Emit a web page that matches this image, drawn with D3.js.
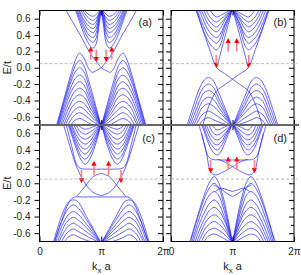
<!DOCTYPE html>
<html><head><meta charset="utf-8">
<script src="https://cdn.jsdelivr.net/npm/d3@7/dist/d3.min.js"></script>
<style>body{margin:0;background:#fff}svg{display:block}text{font-family:"Liberation Sans",Arial,sans-serif}</style>
</head><body><svg id="c" width="301" height="275"></svg>
<script>
// ---- data (k in units of pi, E in units of t); each band is the half 0..pi, mirrored about pi ----
const kTicks=[0,1,2];
const kTickLabels=["0","\u03c0","2\u03c0"];
const eMajor=[-0.6,-0.4,-0.2,0,0.2,0.4,0.6];
const eMinor=[-0.5,-0.3,-0.1,0.1,0.3,0.5];
const eDomain=[-0.7,0.7];
const fermiLevel=0.05;

const bandsA=[
[[0.24,-0.8],[0.39,-0.4],[0.5,-0.1],[0.585,0.1],[0.65,0.18],[0.72,0.12],[0.79,0.0],[0.85,-0.055],[0.92,-0.035],[1.0,0.0]],
[[0.25,-0.8],[0.4,-0.4],[0.52,-0.1],[0.59,0.04],[0.65,0.09],[0.71,0.04],[0.82,-0.22],[1.0,-0.72]],
[[0.26,-0.8],[0.41,-0.4],[0.52,-0.15],[0.58,-0.05],[0.65,0.0],[0.72,-0.05],[0.82,-0.28],[1.0,-0.72]],
[[0.27,-0.8],[0.43,-0.4],[0.53,-0.2],[0.58,-0.13],[0.65,-0.09],[0.72,-0.13],[0.82,-0.34],[1.0,-0.72]],
[[0.28,-0.8],[0.43,-0.45],[0.52,-0.28],[0.58,-0.21],[0.65,-0.17],[0.72,-0.21],[0.82,-0.39],[1.0,-0.72]],
[[0.3,-0.8],[0.435,-0.5],[0.52,-0.35],[0.57,-0.29],[0.65,-0.25],[0.73,-0.29],[0.82,-0.44],[1.0,-0.72]],
[[0.32,-0.8],[0.44,-0.55],[0.52,-0.42],[0.565,-0.37],[0.65,-0.33],[0.735,-0.37],[0.82,-0.49],[1.0,-0.72]],
[[0.34,-0.8],[0.45,-0.6],[0.51,-0.5],[0.56,-0.45],[0.65,-0.41],[0.74,-0.45],[0.83,-0.55],[1.0,-0.72]],
[[0.37,-0.8],[0.45,-0.65],[0.52,-0.56],[0.56,-0.52],[0.65,-0.48],[0.74,-0.52],[0.84,-0.6],[1.0,-0.72]],
[[0.39,-0.8],[0.46,-0.7],[0.52,-0.62],[0.57,-0.58],[0.65,-0.55],[0.73,-0.58],[0.85,-0.65],[1.0,-0.72]],
[[0.43,-0.8],[0.51,-0.7],[0.56,-0.65],[0.65,-0.62],[0.74,-0.65],[0.86,-0.7],[1.0,-0.72]],
[[1.0,0.0],[0.93,0.065],[0.86,0.13],[0.78,0.23],[0.66,0.4],[0.52,0.58],[0.36,0.8]],
[[0.54,0.8],[0.75,0.36],[0.82,0.27],[0.87,0.24],[0.92,0.3],[0.96,0.5],[1.0,0.72]],
[[0.55,0.8],[0.74,0.43],[0.81,0.34],[0.87,0.31],[0.92,0.37],[0.96,0.54],[1.0,0.72]],
[[0.56,0.8],[0.73,0.49],[0.8,0.4],[0.87,0.37],[0.92,0.43],[0.96,0.58],[1.0,0.72]],
[[0.58,0.8],[0.72,0.55],[0.8,0.46],[0.87,0.43],[0.92,0.48],[0.96,0.61],[1.0,0.72]],
[[0.59,0.8],[0.71,0.6],[0.795,0.51],[0.87,0.48],[0.92,0.53],[0.96,0.64],[1.0,0.72]],
[[0.61,0.8],[0.71,0.65],[0.79,0.56],[0.87,0.53],[0.92,0.57],[0.96,0.66],[1.0,0.72]],
[[0.63,0.8],[0.72,0.68],[0.79,0.61],[0.87,0.58],[0.93,0.62],[1.0,0.72]],
[[0.66,0.8],[0.72,0.72],[0.78,0.66],[0.87,0.63],[0.94,0.67],[1.0,0.72]]
];
const arrowsA=[[0.83,0.10,0.26],[0.92,0.22,0.07],[1.08,0.22,0.07],[1.17,0.10,0.26]];

const bandsB=[
[[0.22,-0.8],[0.37,-0.45],[0.47,-0.24],[0.54,-0.15],[0.61,-0.12],[0.68,-0.15],[0.8,-0.35],[1.0,-0.72]],
[[0.24,-0.8],[0.38,-0.5],[0.48,-0.3],[0.54,-0.23],[0.61,-0.2],[0.68,-0.23],[0.8,-0.41],[1.0,-0.72]],
[[0.26,-0.8],[0.39,-0.55],[0.48,-0.38],[0.53,-0.31],[0.61,-0.28],[0.69,-0.31],[0.8,-0.46],[1.0,-0.72]],
[[0.28,-0.8],[0.4,-0.6],[0.48,-0.45],[0.53,-0.39],[0.61,-0.36],[0.69,-0.39],[0.81,-0.52],[1.0,-0.72]],
[[0.31,-0.8],[0.41,-0.64],[0.48,-0.52],[0.53,-0.47],[0.61,-0.44],[0.69,-0.47],[0.82,-0.57],[1.0,-0.72]],
[[0.34,-0.8],[0.42,-0.68],[0.48,-0.6],[0.53,-0.56],[0.61,-0.53],[0.69,-0.56],[0.83,-0.63],[1.0,-0.72]],
[[0.38,-0.8],[0.46,-0.7],[0.52,-0.64],[0.61,-0.61],[0.7,-0.64],[0.84,-0.68],[1.0,-0.72]],
[[0.744,0.0],[0.87,0.36],[1.0,0.72]],
[[0.38,0.8],[0.5,0.5],[0.63,0.22],[0.744,0.0],[0.87,-0.07],[1.0,-0.14]],
[[1.0,-0.14],[0.87,-0.21],[0.744,-0.28],[0.68,-0.36],[0.6,-0.5],[0.5,-0.75]],
[[0.36,0.8],[0.6,0.33],[0.68,0.25],[0.74,0.22],[0.79,0.26],[0.88,0.47],[1.0,0.72]],
[[0.38,0.8],[0.59,0.41],[0.68,0.33],[0.74,0.3],[0.79,0.34],[0.88,0.52],[1.0,0.72]],
[[0.41,0.8],[0.59,0.48],[0.67,0.4],[0.74,0.37],[0.8,0.41],[0.89,0.56],[1.0,0.72]],
[[0.44,0.8],[0.59,0.55],[0.67,0.47],[0.74,0.44],[0.8,0.48],[0.89,0.6],[1.0,0.72]],
[[0.48,0.8],[0.59,0.61],[0.67,0.53],[0.74,0.5],[0.81,0.54],[0.9,0.63],[1.0,0.72]],
[[0.52,0.8],[0.6,0.66],[0.67,0.59],[0.74,0.56],[0.82,0.6],[0.91,0.66],[1.0,0.72]],
[[0.57,0.8],[0.64,0.7],[0.74,0.62],[0.83,0.65],[1.0,0.72]]
];
const arrowsB=[[0.736,0.16,0.0],[0.93,0.20,0.365],[1.07,0.20,0.365],[1.264,0.16,0.0]];

const bandsC=[
[[0.2,-0.8],[0.36,-0.45],[0.47,-0.24],[0.55,-0.17],[0.7,-0.165],[1.0,-0.165]],
[[0.19,-0.8],[0.33,-0.45],[0.43,-0.27],[0.48,-0.22],[0.55,-0.2],[0.62,-0.22],[0.76,-0.4],[1.0,-0.72]],
[[0.2,-0.8],[0.335,-0.5],[0.42,-0.36],[0.47,-0.3],[0.55,-0.26],[0.63,-0.3],[0.77,-0.45],[1.0,-0.72]],
[[0.22,-0.8],[0.34,-0.55],[0.42,-0.43],[0.465,-0.38],[0.55,-0.34],[0.635,-0.38],[0.77,-0.5],[1.0,-0.72]],
[[0.24,-0.8],[0.35,-0.6],[0.41,-0.5],[0.46,-0.45],[0.55,-0.41],[0.64,-0.45],[0.78,-0.55],[1.0,-0.72]],
[[0.27,-0.8],[0.35,-0.65],[0.42,-0.56],[0.46,-0.52],[0.55,-0.48],[0.64,-0.52],[0.79,-0.6],[1.0,-0.72]],
[[0.29,-0.8],[0.36,-0.7],[0.42,-0.62],[0.47,-0.58],[0.55,-0.55],[0.63,-0.58],[0.8,-0.65],[1.0,-0.72]],
[[0.33,-0.8],[0.41,-0.7],[0.46,-0.65],[0.55,-0.62],[0.64,-0.65],[0.82,-0.7],[1.0,-0.72]],
[[0.35,0.8],[0.47,0.5],[0.58,0.24],[0.66,0.1],[0.755,-0.02],[0.87,-0.11],[1.0,-0.15]],
[[0.6,-0.16],[0.68,-0.09],[0.755,-0.02],[0.87,0.08],[1.0,0.12]],
[[0.4,0.8],[0.52,0.45],[0.6,0.23],[0.66,0.18],[0.8,0.17],[1.0,0.17]],
[[0.42,0.8],[0.63,0.35],[0.69,0.26],[0.74,0.23],[0.8,0.27],[0.9,0.45],[1.0,0.72]],
[[0.43,0.8],[0.62,0.41],[0.68,0.32],[0.74,0.29],[0.8,0.33],[0.9,0.49],[1.0,0.72]],
[[0.44,0.8],[0.61,0.47],[0.68,0.38],[0.74,0.35],[0.8,0.39],[0.9,0.53],[1.0,0.72]],
[[0.46,0.8],[0.6,0.53],[0.67,0.44],[0.74,0.41],[0.81,0.45],[0.9,0.56],[1.0,0.72]],
[[0.47,0.8],[0.59,0.59],[0.67,0.5],[0.74,0.47],[0.81,0.5],[0.9,0.6],[1.0,0.72]],
[[0.49,0.8],[0.59,0.65],[0.66,0.56],[0.74,0.53],[0.82,0.56],[0.9,0.63],[1.0,0.72]],
[[0.52,0.8],[0.6,0.69],[0.66,0.62],[0.74,0.59],[0.83,0.62],[1.0,0.72]],
[[0.56,0.8],[0.64,0.69],[0.74,0.65],[0.84,0.67],[1.0,0.72]]
];
const arrowsC=[[0.68,0.16,0.0],[0.882,0.10,0.27],[1.118,0.10,0.27],[1.32,0.16,0.0]];

const bandsD=[
[[0.27,-0.8],[0.43,-0.4],[0.56,-0.1],[0.64,0.03],[0.7,0.08],[0.76,0.03],[0.86,-0.2],[1.0,-0.72]],
[[0.28,-0.8],[0.44,-0.4],[0.56,-0.15],[0.63,-0.05],[0.7,0.0],[0.77,-0.05],[0.86,-0.26],[1.0,-0.72]],
[[0.3,-0.8],[0.46,-0.42],[0.57,-0.21],[0.63,-0.14],[0.7,-0.1],[0.77,-0.14],[0.86,-0.32],[1.0,-0.72]],
[[0.32,-0.8],[0.47,-0.47],[0.57,-0.31],[0.63,-0.24],[0.7,-0.2],[0.77,-0.24],[0.86,-0.39],[1.0,-0.72]],
[[0.34,-0.8],[0.48,-0.53],[0.57,-0.39],[0.62,-0.33],[0.7,-0.29],[0.78,-0.33],[0.87,-0.45],[1.0,-0.72]],
[[0.36,-0.8],[0.49,-0.58],[0.56,-0.47],[0.61,-0.42],[0.7,-0.38],[0.79,-0.42],[0.87,-0.51],[1.0,-0.72]],
[[0.39,-0.8],[0.49,-0.64],[0.56,-0.54],[0.61,-0.5],[0.7,-0.46],[0.79,-0.5],[0.88,-0.57],[1.0,-0.72]],
[[0.42,-0.8],[0.5,-0.69],[0.56,-0.61],[0.61,-0.57],[0.7,-0.54],[0.79,-0.57],[0.89,-0.63],[1.0,-0.72]],
[[0.46,-0.8],[0.54,-0.7],[0.6,-0.64],[0.7,-0.61],[0.8,-0.64],[0.9,-0.68],[1.0,-0.72]],
[[0.69,-0.02],[0.8,-0.06],[0.9,-0.12],[1.0,-0.16]],
[[0.72,-0.1],[0.82,-0.06],[0.92,-0.08],[1.0,-0.1]],
[[0.5,0.6],[0.58,0.35],[0.644,0.14],[0.72,0.1],[0.86,0.14],[1.0,0.2]],
[[1.0,0.2],[0.86,0.26],[0.75,0.29]],
[[0.42,0.8],[0.53,0.5],[0.6,0.33],[0.66,0.29],[0.8,0.28],[1.0,0.28]],
[[0.46,0.8],[0.62,0.46],[0.69,0.37],[0.75,0.34],[0.81,0.38],[0.9,0.53],[1.0,0.72]],
[[0.48,0.8],[0.61,0.52],[0.69,0.43],[0.75,0.4],[0.81,0.44],[0.9,0.57],[1.0,0.72]],
[[0.5,0.8],[0.61,0.58],[0.68,0.49],[0.75,0.46],[0.82,0.5],[0.9,0.6],[1.0,0.72]],
[[0.52,0.8],[0.61,0.64],[0.68,0.55],[0.75,0.52],[0.82,0.55],[0.91,0.63],[1.0,0.72]],
[[0.56,0.8],[0.63,0.68],[0.68,0.61],[0.75,0.58],[0.83,0.61],[1.0,0.72]],
[[0.6,0.8],[0.67,0.7],[0.75,0.64],[0.85,0.67],[1.0,0.72]]
];
const arrowsD=[[0.644,0.28,0.12],[0.93,0.16,0.32],[1.07,0.16,0.32],[1.356,0.28,0.12]];

// ---- layout ----
const panels=[
 {bands:bandsA,arrows:arrowsA,label:"(a)",lx:152,ly:26,x:[39.5,163],y:[125,10.5],left:true,bottom:false},
 {bands:bandsB,arrows:arrowsB,label:"(b)",lx:287,ly:26,x:[171,294],y:[125,10.5],left:false,bottom:false},
 {bands:bandsC,arrows:arrowsC,label:"(c)",lx:155,ly:142,x:[39.5,163],y:[241.5,125],left:true,bottom:true},
 {bands:bandsD,arrows:arrowsD,label:"(d)",lx:287,ly:142,x:[171,294],y:[241.5,125],left:false,bottom:true}
];

const svg=d3.select("#c");
const blue="#2a2aff";
panels.forEach((p,i)=>{
  const x=d3.scaleLinear().domain([0,2]).range(p.x);
  const y=d3.scaleLinear().domain(eDomain).range(p.y);
  const cid="clip"+i;
  svg.append("clipPath").attr("id",cid).append("rect")
    .attr("x",p.x[0]).attr("y",p.y[1]).attr("width",p.x[1]-p.x[0]).attr("height",p.y[0]-p.y[1]);
  const g=svg.append("g").attr("clip-path",`url(#${cid})`);
  const line=d3.line().x(d=>x(d[0])).y(d=>y(d[1])).curve(d3.curveCatmullRom.alpha(0.5));
  p.bands.forEach(b=>{
    g.append("path").attr("d",line(b)).attr("fill","none").attr("stroke",blue).attr("stroke-width",0.8).attr("stroke-opacity",0.9);
    g.append("path").attr("d",line(b.map(d=>[2-d[0],d[1]]))).attr("fill","none").attr("stroke",blue).attr("stroke-width",0.8).attr("stroke-opacity",0.9);
  });
  // arrows
  p.arrows.forEach(a=>{
    const ax=x(a[0]), y0=y(a[1]), y1=y(a[2]);
    const dir=y1<y0?-1:1, hl=5, hw=2.6;
    g.append("line").attr("x1",ax).attr("x2",ax).attr("y1",y0).attr("y2",y1-dir*hl)
      .attr("stroke","#ff8080").attr("stroke-width",1.6);
    g.append("path").attr("d",`M${ax},${y1}L${ax-hw},${y1-dir*hl}L${ax+hw},${y1-dir*hl}Z`).attr("fill","#ff0000");
  });
  // axes
  const fmt=d=>d.toFixed(1);
  const gl=svg.append("g").attr("transform",`translate(${p.x[0]},0)`)
    .call(d3.axisLeft(y).tickValues(eMajor).tickSize(5).tickSizeOuter(0).tickPadding(4).tickFormat(p.left?fmt:""));
  gl.select(".domain").remove();
  gl.selectAll("text").attr("font-size",10).attr("fill","#222").attr("font-family",'"Liberation Sans",Arial,sans-serif');
  const glm=svg.append("g").attr("transform",`translate(${p.x[0]},0)`)
    .call(d3.axisLeft(y).tickValues(eMinor).tickSize(3).tickSizeOuter(0).tickFormat(""));
  glm.select(".domain").remove();
  const gr=svg.append("g").attr("transform",`translate(${p.x[1]},0)`)
    .call(d3.axisRight(y).tickValues(eMajor).tickSize(-5).tickSizeOuter(0).tickFormat(""));
  gr.select(".domain").remove();
  const grm=svg.append("g").attr("transform",`translate(${p.x[1]},0)`)
    .call(d3.axisRight(y).tickValues(eMinor).tickSize(-3).tickSizeOuter(0).tickFormat(""));
  grm.select(".domain").remove();
  const gb=svg.append("g").attr("transform",`translate(0,${p.y[0]})`)
    .call(d3.axisBottom(x).tickValues(kTicks).tickSize(-5).tickSizeOuter(0).tickPadding(6.5).tickFormat((d,j)=>p.bottom?kTickLabels[j]:""));
  gb.select(".domain").remove();
  gb.selectAll("text").attr("font-size",10).attr("fill","#222").attr("font-family",'"Liberation Sans",Arial,sans-serif');
  const gt=svg.append("g").attr("transform",`translate(0,${p.y[1]})`)
    .call(d3.axisTop(x).tickValues(kTicks).tickSize(-5).tickSizeOuter(0).tickFormat(""));
  gt.select(".domain").remove();
  svg.selectAll(".tick line").attr("stroke","#000");
  svg.append("rect").attr("x",p.x[0]).attr("y",p.y[1]).attr("width",p.x[1]-p.x[0]).attr("height",p.y[0]-p.y[1])
    .attr("fill","none").attr("stroke","#000").attr("stroke-width",1);
  // fermi level
  svg.append("line").attr("x1",p.x[0]).attr("x2",p.left?p.x[1]+8:p.x[1]+3).attr("y1",y(fermiLevel)).attr("y2",y(fermiLevel))
    .attr("stroke","#aaa").attr("stroke-width",0.8).attr("stroke-dasharray","3,2");
  svg.append("text").attr("x",p.lx).attr("y",p.ly).attr("text-anchor","end").attr("font-size",11).attr("fill","#222").text(p.label);
  if(p.left){
    svg.append("text").attr("transform",`translate(11,${(p.y[0]+p.y[1])/2}) rotate(-90)`).attr("text-anchor","middle")
      .attr("font-size",11).attr("fill","#222").text("E/t");
  }
  if(p.bottom){
    const t=svg.append("text").attr("x",(p.x[0]+p.x[1])/2).attr("y",270).attr("text-anchor","middle").attr("font-size",11).attr("fill","#222");
    t.append("tspan").text("k");
    t.append("tspan").attr("font-size",8).attr("dy",2.5).text("x");
    t.append("tspan").attr("dy",-2.5).text(" a");
  }
});
svg.append("line").attr("x1",34).attr("x2",299).attr("y1",125).attr("y2",125).attr("stroke","#666").attr("stroke-width",2);
</script></body></html>
